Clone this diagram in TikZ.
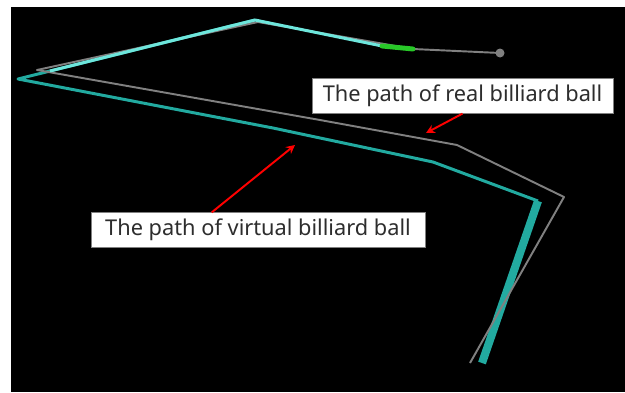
\documentclass[tikz,border=0pt]{standalone}
\usepackage{fontspec}
\setmainfont{Noto Sans}
\usetikzlibrary{arrows.meta}

\definecolor{realgray}{RGB}{128,128,128}
\definecolor{virtteal}{RGB}{34,170,160}
\definecolor{virtlight}{RGB}{110,230,220}
\definecolor{hitgreen}{RGB}{40,200,40}
\definecolor{labeltext}{RGB}{45,45,45}

\tikzset{
  realpath/.style={draw=realgray, line width=1.1pt, line join=round},
  virtpath/.style={draw=virtteal, line width=1.7pt, line join=round},
  labelbox/.style={rectangle, fill=white, draw=realgray, line width=0.4pt,
    text=labeltext, font=\fontsize{12.4}{14}\selectfont, minimum height=0.69cm},
  pointer/.style={draw=red, line width=1.1pt, -{Stealth[length=5pt,width=5pt]}}
}

\begin{document}
\begin{tikzpicture}[x=0.02cm,y=-0.02cm]

        \useasboundingbox[fill=white] (0,0) rectangle (625,392);
        \fill[black] (11,7) rectangle (625,392);

        % points of the real ball
        \coordinate (r0) at (500,53);
        \coordinate (r1) at (413,49);
        \coordinate (r2) at (258,22);
        \coordinate (r3) at (37,70);
        \coordinate (r4) at (320,120);
        \coordinate (r5) at (457,145);
        \coordinate (r6) at (564,197);
        \coordinate (r7) at (470,363);

        % points of the virtual ball
        \coordinate (v0) at (382,46);
        \coordinate (v1) at (255,20);
        \coordinate (v2) at (18,79);
        \coordinate (v3) at (273,128);
        \coordinate (v4) at (433,162);
        \coordinate (v5) at (538,201);
        \coordinate (v6) at (482,363);

        % virtual path, lower part
        \draw[virtpath] (v1) -- (v2) -- (v3) -- (v4) -- (v5);
        \draw[draw=virtteal, line width=4.6pt] (v5) -- (v6);

        % real path
        \draw[realpath] (r0) -- (r1) -- (r2) -- (r3) -- (r4) -- (r5) -- (r6) -- (r7);
        \fill[realgray] (r0) circle (4.5);

        % virtual path, upper part over the real one
        \draw[virtpath, draw=virtlight] (v0) -- (v1) -- (50,71);
        \draw[draw=hitgreen, line width=2.8pt, line cap=round] (v0) -- (r1);

        \begin{scope}[every node/.style={labelbox}]
          \node[minimum width=6.02cm] (real)    at (462.5,96) {The path of real billiard ball};
          \node[minimum width=6.68cm] (virtual) at (258,230)  {The path of virtual billiard ball};
        \end{scope}

        \coordinate (realhit) at (426,133);
        \coordinate (virthit) at (295,145);
        \path (virtual.north west) ++(121,0) coordinate (virtfoot);

        \begin{scope}[every edge/.style={pointer}]
          \path (real.south) edge (realhit);
          \path (virtfoot)   edge (virthit);
        \end{scope}

\end{tikzpicture}
\end{document}
